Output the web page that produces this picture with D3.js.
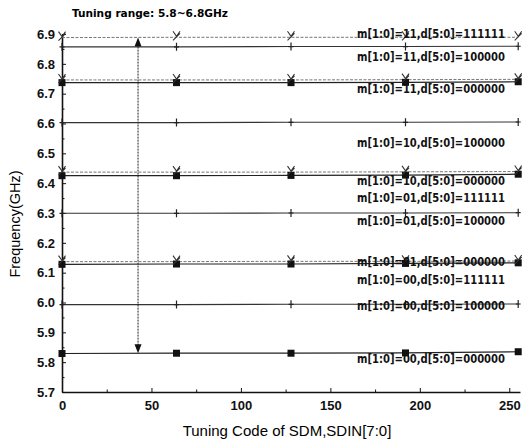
<!DOCTYPE html>
<html>
<head>
<meta charset="utf-8">
<script src="https://cdn.jsdelivr.net/npm/d3@7"></script>
<style>
  body { margin: 0; background: #fff; }
  svg { display: block; }
  .tick text { font-family: Arial, "Liberation Sans", sans-serif; font-weight: bold; font-size: 13px; fill: #111; }
  .axis path, .axis line { stroke: #111; }
</style>
</head>
<body>
<svg width="522" height="447"></svg>
<script>
(function() {
    const svg = d3.select('svg');

    // SDIN codes where the points were measured
    const codes = [0, 64, 128, 192, 255];

    // series: m[1:0], d[5:0], frequencies (GHz) at each code
    const mBits = ['11', '11', '11', '10', '10', '10', '01', '01', '01', '00', '00', '00'];
    const dBits = ['111111', '100000', '000000', '111111', '100000', '000000',
                   '111111', '100000', '000000', '111111', '100000', '000000'];
    const freqs = [
        [6.888, 6.889, 6.889, 6.889, 6.889],
        [6.857, 6.857, 6.858, 6.858, 6.859],
        [6.737, 6.737, 6.737, 6.738, 6.740],
        [6.746, 6.746, 6.746, 6.747, 6.748],
        [6.603, 6.603, 6.604, 6.604, 6.605],
        [6.425, 6.425, 6.426, 6.427, 6.430],
        [6.437, 6.437, 6.437, 6.438, 6.439],
        [6.299, 6.299, 6.300, 6.300, 6.301],
        [6.128, 6.129, 6.129, 6.131, 6.133],
        [6.137, 6.137, 6.138, 6.138, 6.139],
        [5.993, 5.993, 5.994, 5.994, 5.995],
        [5.829, 5.830, 5.830, 5.831, 5.835]
    ];
    // where each series label sits (GHz), null = no label
    const labelFreq = [6.900, 6.823, 6.716, null, 6.536, 6.407,
                       6.351, 6.273, 6.137, 6.075, 5.988, 5.810];

    const xTicks = [0, 50, 100, 150, 200, 250];
    const yTicks = [5.7, 5.8, 5.9, 6.0, 6.1, 6.2, 6.3, 6.4, 6.5, 6.6, 6.7, 6.8, 6.9];

    // tuning range arrow
    const arrowCode = 42.5;
    const arrowRange = [5.83, 6.888];

    const x = d3.scaleLinear().domain([0, 256]).range([62, 520]);
    const y = d3.scaleLinear().domain([5.7, 6.9]).range([392, 34]);

    // minor ticks
    svg.append('g')
        .attr('class', 'axis')
        .attr('transform', 'translate(62,0)')
        .call(d3.axisLeft(y).tickValues(d3.range(5.75, 6.9, 0.1)).tickSize(-2.5).tickFormat(''))
        .call(g => g.select('.domain').remove());
    svg.append('g')
        .attr('class', 'axis')
        .attr('transform', 'translate(0,392)')
        .call(d3.axisBottom(x).tickValues([25, 75, 125, 175, 225]).tickSize(-2.5).tickFormat(''))
        .call(g => g.select('.domain').remove());

    const yAxis = svg.append('g')
        .attr('class', 'axis')
        .attr('transform', 'translate(62,0)')
        .call(d3.axisLeft(y).tickValues(yTicks).tickSizeInner(-4).tickSizeOuter(0)
            .tickPadding(7).tickFormat(d3.format('.1f')));
    yAxis.select('.domain').attr('stroke-width', 1.6);

    const xAxis = svg.append('g')
        .attr('class', 'axis')
        .attr('transform', 'translate(0,392)')
        .call(d3.axisBottom(x).tickValues(xTicks).tickSizeInner(-4).tickSizeOuter(0).tickPadding(9));
    xAxis.select('.domain').attr('stroke-width', 1.6);

    const series = freqs.map((vals, i) => ({
        m: mBits[i],
        d: dBits[i],
        label: labelFreq[i],
        points: vals.map((v, j) => ({ code: codes[j], f: v }))
    }));

    const line = d3.line().x(d => x(d.code)).y(d => y(d.f));

    const styleOf = d => {
        if (d === '000000') return { stroke: '#222', w: 1.2, dash: null };
        if (d === '100000') return { stroke: '#333', w: 1.1, dash: null };
        return { stroke: '#777', w: 1, dash: '3,1.5' };
    };

    const g = svg.append('g');

    g.selectAll('path.series')
        .data(series)
        .enter()
        .append('path')
        .attr('class', 'series')
        .attr('fill', 'none')
        .attr('d', s => line(s.points))
        .attr('stroke', s => styleOf(s.d).stroke)
        .attr('stroke-width', s => styleOf(s.d).w)
        .attr('stroke-dasharray', s => styleOf(s.d).dash);

    // markers
    series.forEach(s => {
        const mk = g.append('g').selectAll('g')
            .data(s.points)
            .enter()
            .append('g')
            .attr('transform', p => `translate(${x(p.code)},${y(p.f)})`);
        if (s.d === '000000') {
            mk.append('rect')
                .attr('x', -3.5).attr('y', -3.5)
                .attr('width', 7).attr('height', 7)
                .attr('fill', '#111');
        } else if (s.d === '100000') {
            mk.append('path')
                .attr('d', 'M0,-4V4M-2.5,0H2.5')
                .attr('stroke', '#222').attr('stroke-width', 1.2);
        } else {
            mk.append('path')
                .attr('d', 'M-3.5,-6L0,-1L3.5,-6M-3.5,3L3.5,-4')
                .attr('fill', 'none')
                .attr('stroke', '#333').attr('stroke-width', 1.1);
        }
    });

    // series labels
    g.selectAll('text.lbl')
        .data(series.filter(s => s.label !== null))
        .enter()
        .append('text')
        .attr('class', 'lbl')
        .attr('x', 357)
        .attr('y', s => y(s.label))
        .attr('dy', '0.35em')
        .attr('textLength', 148)
        .attr('lengthAdjust', 'spacingAndGlyphs')
        .style('font-family', '"DejaVu Sans Condensed", "Liberation Sans Narrow", Arial, sans-serif')
        .style('font-size', '11.5px')
        .style('font-weight', 'bold')
        .style('fill', '#111')
        .text(s => `m[1:0]=${s.m},d[5:0]=${s.d}`);

    // tuning range arrow
    const ax = x(arrowCode);
    const yLo = y(arrowRange[0]);
    const yHi = y(arrowRange[1]);
    svg.append('line')
        .attr('x1', ax).attr('x2', ax)
        .attr('y1', yHi + 6).attr('y2', yLo - 6)
        .attr('stroke', '#222')
        .attr('stroke-width', 1)
        .attr('stroke-dasharray', '2,1');
    svg.append('path')
        .attr('d', `M${ax},${yHi}L${ax - 3.5},${yHi + 9}L${ax + 3.5},${yHi + 9}Z`)
        .attr('fill', '#111');
    svg.append('path')
        .attr('d', `M${ax},${yLo}L${ax - 3.5},${yLo - 9}L${ax + 3.5},${yLo - 9}Z`)
        .attr('fill', '#111');

    // titles
    svg.append('text')
        .attr('x', 72).attr('y', 17)
        .attr('textLength', 156)
        .attr('lengthAdjust', 'spacingAndGlyphs')
        .style('font-family', '"DejaVu Sans Condensed", Arial, sans-serif')
        .style('font-size', '11px')
        .style('font-weight', 'bold')
        .text('Tuning range: 5.8~6.8GHz');

    svg.append('text')
        .attr('x', 287).attr('y', 436)
        .attr('text-anchor', 'middle')
        .style('font-family', 'Arial, "Liberation Sans", sans-serif')
        .style('font-size', '15px')
        .text('Tuning Code of SDM,SDIN[7:0]');

    svg.append('text')
        .attr('transform', 'translate(20,224) rotate(-90)')
        .attr('text-anchor', 'middle')
        .style('font-family', 'Arial, "Liberation Sans", sans-serif')
        .style('font-size', '14.5px')
        .text('Frequency(GHz)');
})()
</script>
</body>
</html>
